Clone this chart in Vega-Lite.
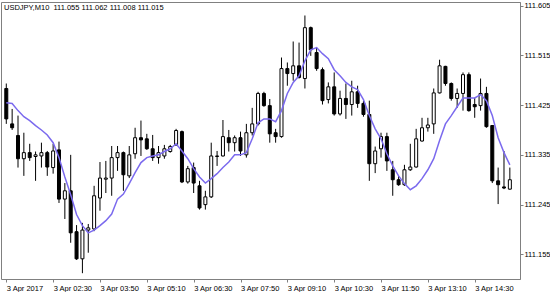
{
  "$schema": "https://vega.github.io/schema/vega-lite/v6.json",
  "width": 519,
  "height": 277,
  "padding": {"left": 1, "top": 1, "right": 0, "bottom": 0},
  "background": "white",
  "title": {"text": "USDJPY,M10\u00a0 111.055 111.062 111.008 111.015", "anchor": "start", "frame": "group", "orient": "top", "baseline": "top", "offset": -10, "dx": 3, "fontSize": 7.5, "fontWeight": "normal", "font": "Liberation Sans", "color": "black"},
  "data": {
    "values": [
      {"t":"2017-04-03 01:10","o":111.455,"h":111.464,"l":111.391,"c":111.400,"ma":111.429},
      {"t":"2017-04-03 01:20","o":111.391,"h":111.418,"l":111.380,"c":111.384,"ma":111.428},
      {"t":"2017-04-03 01:30","o":111.370,"h":111.406,"l":111.312,"c":111.328,"ma":111.415},
      {"t":"2017-04-03 01:40","o":111.328,"h":111.375,"l":111.297,"c":111.339,"ma":111.404},
      {"t":"2017-04-03 01:50","o":111.339,"h":111.355,"l":111.324,"c":111.330,"ma":111.397},
      {"t":"2017-04-03 02:00","o":111.332,"h":111.341,"l":111.288,"c":111.335,"ma":111.388},
      {"t":"2017-04-03 02:10","o":111.333,"h":111.357,"l":111.312,"c":111.339,"ma":111.380},
      {"t":"2017-04-03 02:20","o":111.339,"h":111.342,"l":111.297,"c":111.313,"ma":111.371},
      {"t":"2017-04-03 02:30","o":111.312,"h":111.355,"l":111.301,"c":111.342,"ma":111.357},
      {"t":"2017-04-03 02:40","o":111.344,"h":111.359,"l":111.248,"c":111.255,"ma":111.330},
      {"t":"2017-04-03 02:50","o":111.255,"h":111.284,"l":111.219,"c":111.270,"ma":111.295},
      {"t":"2017-04-03 03:00","o":111.270,"h":111.335,"l":111.176,"c":111.194,"ma":111.263},
      {"t":"2017-04-03 03:10","o":111.196,"h":111.208,"l":111.145,"c":111.147,"ma":111.227},
      {"t":"2017-04-03 03:20","o":111.147,"h":111.212,"l":111.121,"c":111.199,"ma":111.207},
      {"t":"2017-04-03 03:30","o":111.199,"h":111.210,"l":111.158,"c":111.203,"ma":111.194},
      {"t":"2017-04-03 03:40","o":111.201,"h":111.279,"l":111.197,"c":111.261,"ma":111.199},
      {"t":"2017-04-03 03:50","o":111.257,"h":111.322,"l":111.234,"c":111.293,"ma":111.207},
      {"t":"2017-04-03 04:00","o":111.291,"h":111.324,"l":111.266,"c":111.293,"ma":111.216},
      {"t":"2017-04-03 04:10","o":111.293,"h":111.351,"l":111.261,"c":111.330,"ma":111.228},
      {"t":"2017-04-03 04:20","o":111.330,"h":111.351,"l":111.306,"c":111.339,"ma":111.255},
      {"t":"2017-04-03 04:30","o":111.339,"h":111.341,"l":111.270,"c":111.299,"ma":111.264},
      {"t":"2017-04-03 04:40","o":111.297,"h":111.351,"l":111.293,"c":111.335,"ma":111.283},
      {"t":"2017-04-03 04:50","o":111.337,"h":111.384,"l":111.328,"c":111.366,"ma":111.303},
      {"t":"2017-04-03 05:00","o":111.366,"h":111.397,"l":111.333,"c":111.362,"ma":111.321},
      {"t":"2017-04-03 05:10","o":111.364,"h":111.373,"l":111.344,"c":111.346,"ma":111.330},
      {"t":"2017-04-03 05:20","o":111.346,"h":111.371,"l":111.324,"c":111.330,"ma":111.333},
      {"t":"2017-04-03 05:30","o":111.330,"h":111.351,"l":111.319,"c":111.339,"ma":111.335},
      {"t":"2017-04-03 05:40","o":111.333,"h":111.353,"l":111.328,"c":111.346,"ma":111.341},
      {"t":"2017-04-03 05:50","o":111.341,"h":111.353,"l":111.339,"c":111.350,"ma":111.346},
      {"t":"2017-04-03 06:00","o":111.353,"h":111.382,"l":111.351,"c":111.379,"ma":111.355},
      {"t":"2017-04-03 06:10","o":111.377,"h":111.379,"l":111.284,"c":111.286,"ma":111.342},
      {"t":"2017-04-03 06:20","o":111.286,"h":111.315,"l":111.283,"c":111.310,"ma":111.328},
      {"t":"2017-04-03 06:30","o":111.312,"h":111.321,"l":111.266,"c":111.284,"ma":111.310},
      {"t":"2017-04-03 06:40","o":111.279,"h":111.288,"l":111.236,"c":111.239,"ma":111.295},
      {"t":"2017-04-03 06:50","o":111.245,"h":111.270,"l":111.236,"c":111.259,"ma":111.284},
      {"t":"2017-04-03 07:00","o":111.259,"h":111.357,"l":111.257,"c":111.333,"ma":111.292},
      {"t":"2017-04-03 07:10","o":111.332,"h":111.342,"l":111.315,"c":111.333,"ma":111.301},
      {"t":"2017-04-03 07:20","o":111.333,"h":111.398,"l":111.332,"c":111.368,"ma":111.312},
      {"t":"2017-04-03 07:30","o":111.366,"h":111.380,"l":111.341,"c":111.357,"ma":111.322},
      {"t":"2017-04-03 07:40","o":111.357,"h":111.370,"l":111.341,"c":111.366,"ma":111.335},
      {"t":"2017-04-03 07:50","o":111.366,"h":111.377,"l":111.333,"c":111.342,"ma":111.335},
      {"t":"2017-04-03 08:00","o":111.335,"h":111.391,"l":111.330,"c":111.375,"ma":111.339},
      {"t":"2017-04-03 08:10","o":111.375,"h":111.420,"l":111.370,"c":111.391,"ma":111.364},
      {"t":"2017-04-03 08:20","o":111.391,"h":111.449,"l":111.388,"c":111.446,"ma":111.393},
      {"t":"2017-04-03 08:30","o":111.446,"h":111.449,"l":111.422,"c":111.424,"ma":111.400},
      {"t":"2017-04-03 08:40","o":111.424,"h":111.436,"l":111.357,"c":111.373,"ma":111.400},
      {"t":"2017-04-03 08:50","o":111.375,"h":111.382,"l":111.357,"c":111.368,"ma":111.395},
      {"t":"2017-04-03 09:00","o":111.368,"h":111.511,"l":111.366,"c":111.491,"ma":111.415},
      {"t":"2017-04-03 09:10","o":111.491,"h":111.502,"l":111.460,"c":111.482,"ma":111.446},
      {"t":"2017-04-03 09:20","o":111.482,"h":111.540,"l":111.469,"c":111.496,"ma":111.466},
      {"t":"2017-04-03 09:30","o":111.496,"h":111.538,"l":111.473,"c":111.475,"ma":111.478},
      {"t":"2017-04-03 09:40","o":111.473,"h":111.587,"l":111.455,"c":111.565,"ma":111.505},
      {"t":"2017-04-03 09:50","o":111.565,"h":111.567,"l":111.514,"c":111.525,"ma":111.525},
      {"t":"2017-04-03 10:00","o":111.520,"h":111.529,"l":111.487,"c":111.491,"ma":111.529},
      {"t":"2017-04-03 10:10","o":111.489,"h":111.493,"l":111.426,"c":111.433,"ma":111.518},
      {"t":"2017-04-03 10:20","o":111.435,"h":111.466,"l":111.428,"c":111.458,"ma":111.509},
      {"t":"2017-04-03 10:30","o":111.458,"h":111.484,"l":111.406,"c":111.409,"ma":111.489},
      {"t":"2017-04-03 10:40","o":111.409,"h":111.451,"l":111.406,"c":111.437,"ma":111.478},
      {"t":"2017-04-03 10:50","o":111.437,"h":111.464,"l":111.400,"c":111.426,"ma":111.466},
      {"t":"2017-04-03 11:00","o":111.426,"h":111.469,"l":111.406,"c":111.449,"ma":111.458},
      {"t":"2017-04-03 11:10","o":111.449,"h":111.460,"l":111.420,"c":111.428,"ma":111.453},
      {"t":"2017-04-03 11:20","o":111.428,"h":111.433,"l":111.404,"c":111.408,"ma":111.435},
      {"t":"2017-04-03 11:30","o":111.408,"h":111.433,"l":111.288,"c":111.319,"ma":111.406},
      {"t":"2017-04-03 11:40","o":111.319,"h":111.350,"l":111.302,"c":111.342,"ma":111.382},
      {"t":"2017-04-03 11:50","o":111.346,"h":111.375,"l":111.330,"c":111.368,"ma":111.364},
      {"t":"2017-04-03 12:00","o":111.368,"h":111.375,"l":111.306,"c":111.324,"ma":111.337},
      {"t":"2017-04-03 12:10","o":111.308,"h":111.324,"l":111.261,"c":111.290,"ma":111.315},
      {"t":"2017-04-03 12:20","o":111.290,"h":111.297,"l":111.279,"c":111.281,"ma":111.297},
      {"t":"2017-04-03 12:30","o":111.281,"h":111.317,"l":111.279,"c":111.308,"ma":111.283},
      {"t":"2017-04-03 12:40","o":111.308,"h":111.355,"l":111.306,"c":111.313,"ma":111.272},
      {"t":"2017-04-03 12:50","o":111.313,"h":111.382,"l":111.312,"c":111.364,"ma":111.279},
      {"t":"2017-04-03 13:00","o":111.360,"h":111.402,"l":111.359,"c":111.384,"ma":111.292},
      {"t":"2017-04-03 13:10","o":111.384,"h":111.402,"l":111.377,"c":111.389,"ma":111.308},
      {"t":"2017-04-03 13:20","o":111.391,"h":111.455,"l":111.373,"c":111.447,"ma":111.328},
      {"t":"2017-04-03 13:30","o":111.447,"h":111.507,"l":111.446,"c":111.496,"ma":111.361},
      {"t":"2017-04-03 13:40","o":111.495,"h":111.496,"l":111.460,"c":111.464,"ma":111.391},
      {"t":"2017-04-03 13:50","o":111.464,"h":111.466,"l":111.433,"c":111.437,"ma":111.406},
      {"t":"2017-04-03 14:00","o":111.437,"h":111.455,"l":111.420,"c":111.446,"ma":111.422},
      {"t":"2017-04-03 14:10","o":111.446,"h":111.484,"l":111.415,"c":111.480,"ma":111.438},
      {"t":"2017-04-03 14:20","o":111.480,"h":111.484,"l":111.413,"c":111.415,"ma":111.438},
      {"t":"2017-04-03 14:30","o":111.426,"h":111.438,"l":111.402,"c":111.422,"ma":111.438},
      {"t":"2017-04-03 14:40","o":111.424,"h":111.473,"l":111.415,"c":111.446,"ma":111.444},
      {"t":"2017-04-03 14:50","o":111.446,"h":111.458,"l":111.384,"c":111.386,"ma":111.433},
      {"t":"2017-04-03 15:00","o":111.388,"h":111.389,"l":111.284,"c":111.288,"ma":111.406},
      {"t":"2017-04-03 15:10","o":111.288,"h":111.312,"l":111.246,"c":111.281,"ma":111.366},
      {"t":"2017-04-03 15:20","o":111.277,"h":111.342,"l":111.273,"c":111.275,"ma":111.339},
      {"t":"2017-04-03 15:30","o":111.273,"h":111.312,"l":111.272,"c":111.290,"ma":111.317}
    ],
    "format": {"parse": {"t": "date:'%Y-%m-%d %H:%M'"}}
  },
  "encoding": {
    "x": {
      "field": "t",
      "type": "temporal",
      "title": null,
      "scale": {
        "domain": [
          {"year": 2017, "month": 4, "date": 3, "hours": 1, "minutes": 9, "seconds": 30},
          {"year": 2017, "month": 4, "date": 3, "hours": 15, "minutes": 38, "seconds": 48}
        ],
        "nice": false
      },
      "axis": {
        "values": [
          {"year": 2017, "month": 4, "date": 3, "hours": 1, "minutes": 10},
          {"year": 2017, "month": 4, "date": 3, "hours": 2, "minutes": 30},
          {"year": 2017, "month": 4, "date": 3, "hours": 3, "minutes": 50},
          {"year": 2017, "month": 4, "date": 3, "hours": 5, "minutes": 10},
          {"year": 2017, "month": 4, "date": 3, "hours": 6, "minutes": 30},
          {"year": 2017, "month": 4, "date": 3, "hours": 7, "minutes": 50},
          {"year": 2017, "month": 4, "date": 3, "hours": 9, "minutes": 10},
          {"year": 2017, "month": 4, "date": 3, "hours": 10, "minutes": 30},
          {"year": 2017, "month": 4, "date": 3, "hours": 11, "minutes": 50},
          {"year": 2017, "month": 4, "date": 3, "hours": 13, "minutes": 10},
          {"year": 2017, "month": 4, "date": 3, "hours": 14, "minutes": 30}
        ],
        "labelExpr": "timeFormat(datum.value, '%H:%M') == '01:10' ? '3 Apr 2017' : timeFormat(datum.value, '%-d %b %H:%M')",
        "labelAlign": "left",
        "labelBaseline": "top",
        "labelPadding": 2,
        "labelOverlap": false,
        "labelFlush": false,
        "tickSize": 3,
        "grid": false,
        "domain": false
      }
    }
  },
  "layer": [
    {
      "mark": {"type": "rule", "color": "black", "strokeWidth": 1, "clip": true},
      "encoding": {
        "y": {
          "field": "l",
          "type": "quantitative",
          "title": null,
          "scale": {"domain": [111.1105, 111.6114], "nice": false, "zero": false},
          "axis": {
            "orient": "right",
            "values": [111.155, 111.2, 111.245, 111.29, 111.335, 111.38, 111.425, 111.47, 111.515, 111.56, 111.605],
            "format": ".3f",
            "tickSize": 3,
            "labelPadding": 1,
            "grid": false
          }
        },
        "y2": {"field": "h"}
      }
    },
    {
      "mark": {"type": "bar", "size": 3, "stroke": "black", "strokeWidth": 1, "clip": true},
      "encoding": {
        "y": {"field": "o", "type": "quantitative"},
        "y2": {"field": "c"},
        "fill": {"condition": {"test": "datum.o > datum.c", "value": "black"}, "value": "white"}
      }
    },
    {
      "mark": {"type": "line", "color": "#7b6aee", "strokeWidth": 1.5, "clip": true},
      "encoding": {
        "y": {"field": "ma", "type": "quantitative"}
      }
    }
  ],
  "config": {
    "font": "Liberation Sans",
    "view": {"stroke": "#808080", "strokeWidth": 1},
    "axis": {
      "labelFont": "Liberation Sans",
      "labelFontSize": 7.5,
      "labelColor": "black",
      "tickColor": "#808080",
      "domainColor": "#808080"
    }
  }
}
